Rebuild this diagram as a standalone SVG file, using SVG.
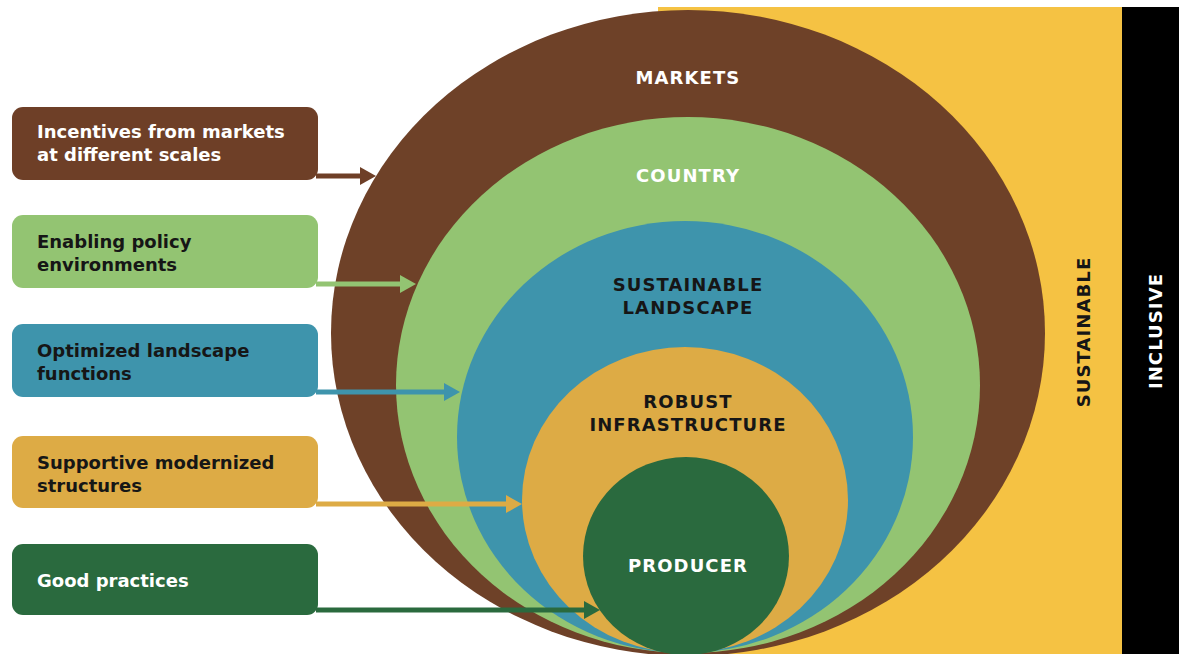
<svg xmlns="http://www.w3.org/2000/svg" width="1179" height="654" viewBox="0 0 1179 654">
  <style>
    .lbl { font-family: "DejaVu Sans", "Liberation Sans", sans-serif; font-weight: 700; font-size: 18px; }
    .ring { font-family: "DejaVu Sans", "Liberation Sans", sans-serif; font-weight: 700; font-size: 18px; letter-spacing: 1.1px; text-anchor: middle; }
    .light { fill: #ffffff; }
    .dark { fill: #161616; }
    .conn { fill: none; stroke-width: 5; }
  </style>
  <defs>
    <marker id="ah-brown" markerUnits="userSpaceOnUse" viewBox="0 0 16 18" refX="0" refY="9" markerWidth="16" markerHeight="18" orient="auto"><path d="M0,0 L16,9 L0,18 z" fill="#6e3f27"/></marker>
    <marker id="ah-lgreen" markerUnits="userSpaceOnUse" viewBox="0 0 16 18" refX="0" refY="9" markerWidth="16" markerHeight="18" orient="auto"><path d="M0,0 L16,9 L0,18 z" fill="#93c472"/></marker>
    <marker id="ah-blue" markerUnits="userSpaceOnUse" viewBox="0 0 16 18" refX="0" refY="9" markerWidth="16" markerHeight="18" orient="auto"><path d="M0,0 L16,9 L0,18 z" fill="#3e94ac"/></marker>
    <marker id="ah-gold" markerUnits="userSpaceOnUse" viewBox="0 0 16 18" refX="0" refY="9" markerWidth="16" markerHeight="18" orient="auto"><path d="M0,0 L16,9 L0,18 z" fill="#ddab45"/></marker>
    <marker id="ah-dgreen" markerUnits="userSpaceOnUse" viewBox="0 0 16 18" refX="0" refY="9" markerWidth="16" markerHeight="18" orient="auto"><path d="M0,0 L16,9 L0,18 z" fill="#2a6a3e"/></marker>
  </defs>

  <rect width="1179" height="654" fill="#ffffff"/>

  <!-- outer bands -->
  <g id="sustainable">
    <rect x="658" y="7" width="465" height="647" fill="#f5c243"/>
    <text class="ring dark" transform="translate(1090,332) rotate(-90)">SUSTAINABLE</text>
  </g>
  <g id="inclusive">
    <rect x="1122" y="7" width="57" height="647" fill="#000000"/>
    <text class="ring light" transform="translate(1162,331) rotate(-90)">INCLUSIVE</text>
  </g>

  <!-- nested levels -->
  <g id="markets">
    <ellipse cx="688" cy="333" rx="357" ry="323" fill="#6e4128"/>
    <text class="ring light" x="688" y="84">MARKETS</text>
  </g>
  <g id="country">
    <ellipse cx="688" cy="385" rx="292" ry="268" fill="#93c472"/>
    <text class="ring light" x="688" y="182">COUNTRY</text>
  </g>
  <g id="landscape">
    <ellipse cx="685" cy="437" rx="228" ry="216" fill="#3e94ac"/>
    <text class="ring dark" x="688" y="291">SUSTAINABLE</text>
    <text class="ring dark" x="688" y="314">LANDSCAPE</text>
  </g>
  <g id="infrastructure">
    <ellipse cx="685" cy="500" rx="163" ry="153" fill="#ddab45"/>
    <text class="ring dark" x="688" y="408">ROBUST</text>
    <text class="ring dark" x="688" y="431">INFRASTRUCTURE</text>
  </g>
  <g id="producer">
    <ellipse cx="686" cy="556" rx="103" ry="99" fill="#2a6a3e"/>
    <text class="ring light" x="688" y="572">PRODUCER</text>
  </g>

  <!-- driver boxes -->
  <g id="box-markets">
    <rect x="12" y="107" width="306" height="73" rx="11" fill="#6e3f27"/>
    <text class="lbl light" x="37" y="138">Incentives from markets</text>
    <text class="lbl light" x="37" y="161">at different scales</text>
  </g>
  <g id="box-policy">
    <rect x="12" y="215" width="306" height="73" rx="11" fill="#93c472"/>
    <text class="lbl dark" x="37" y="248">Enabling policy</text>
    <text class="lbl dark" x="37" y="271">environments</text>
  </g>
  <g id="box-landscape">
    <rect x="12" y="324" width="306" height="73" rx="11" fill="#3e94ac"/>
    <text class="lbl dark" x="37" y="357">Optimized landscape</text>
    <text class="lbl dark" x="37" y="380">functions</text>
  </g>
  <g id="box-structures">
    <rect x="12" y="436" width="306" height="72" rx="11" fill="#ddab45"/>
    <text class="lbl dark" x="37" y="469">Supportive modernized</text>
    <text class="lbl dark" x="37" y="492">structures</text>
  </g>
  <g id="box-practices">
    <rect x="12" y="544" width="306" height="71" rx="11" fill="#2a6a3e"/>
    <text class="lbl light" x="37" y="587">Good practices</text>
  </g>

  <!-- connectors: each driver points into its level -->
  <g id="connectors">
    <line class="conn" x1="316" y1="176" x2="360" y2="176" stroke="#6e3f27" marker-end="url(#ah-brown)"/>
    <line class="conn" x1="316" y1="284" x2="400" y2="284" stroke="#93c472" marker-end="url(#ah-lgreen)"/>
    <line class="conn" x1="316" y1="392" x2="444" y2="392" stroke="#3e94ac" marker-end="url(#ah-blue)"/>
    <line class="conn" x1="316" y1="504" x2="506" y2="504" stroke="#ddab45" marker-end="url(#ah-gold)"/>
    <line class="conn" x1="316" y1="610" x2="584" y2="610" stroke="#2a6a3e" marker-end="url(#ah-dgreen)"/>
  </g>
</svg>
